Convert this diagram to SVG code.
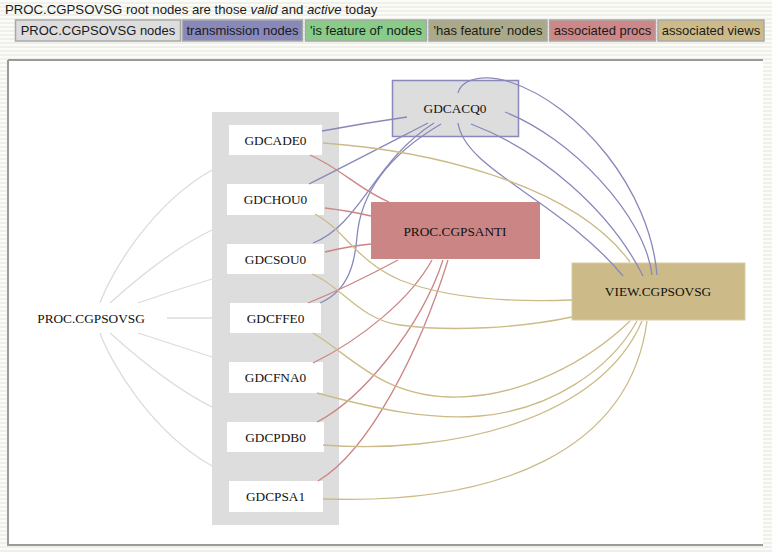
<svg xmlns="http://www.w3.org/2000/svg" width="772" height="552" viewBox="0 0 772 552">
  <defs>
    <pattern id="stripes" width="4" height="4" patternUnits="userSpaceOnUse">
      <rect width="4" height="4" fill="#fbfbf8"/>
      <rect y="2" width="4" height="2" fill="#f0f0ea"/>
    </pattern>
    <style>
      .title { font-family: "Liberation Sans", Arial, sans-serif; font-size: 13.2px; fill: #1a1a1a; }
      .leg { font-family: "Liberation Sans", Arial, sans-serif; font-size: 13px; fill: #1a1a1a; text-anchor: middle; }
      .legbox { stroke: #a8a8a8; stroke-width: 1.5; }
      .lbl { font-family: "Liberation Serif", "Times New Roman", serif; font-size: 13.3px; fill: #111; text-anchor: middle; }
      .gdc { fill: #ffffff; }
      .edge { fill: none; stroke-width: 1.3; }
      .grey { stroke: #dcdcdc; }
      .trans { stroke: #8888bb; }
      .proc { stroke: #cc8585; }
      .view { stroke: #ccbb88; }
    </style>
  </defs>

  <!-- page background -->
  <rect x="0" y="0" width="772" height="552" fill="url(#stripes)"/>

  <!-- title and legend -->
  <g id="legend">
    <text class="title" x="5" y="13.5">PROC.CGPSOVSG root nodes are those <tspan font-style="italic">valid</tspan> and <tspan font-style="italic">active</tspan> today</text>
    <rect class="legbox" x="15.5" y="20" width="165" height="21" fill="#dddddd"/>
    <text class="leg" x="98" y="35">PROC.CGPSOVSG nodes</text>
    <rect class="legbox" x="182.5" y="20" width="120" height="21" fill="#8888bb"/>
    <text class="leg" x="242.5" y="35">transmission nodes</text>
    <rect class="legbox" x="305.5" y="20" width="121" height="21" fill="#88cc88"/>
    <text class="leg" x="366" y="35">'is feature of' nodes</text>
    <rect class="legbox" x="429" y="20" width="118" height="21" fill="#aaaa88"/>
    <text class="leg" x="488" y="35">'has feature' nodes</text>
    <rect class="legbox" x="549.5" y="20" width="106" height="21" fill="#cc8888"/>
    <text class="leg" x="602.5" y="35">associated procs</text>
    <rect class="legbox" x="658" y="20" width="106" height="21" fill="#ccbb88"/>
    <text class="leg" x="711" y="35">associated views</text>
  </g>

  <!-- drawing panel -->
  <g id="panel">
    <rect x="8" y="60" width="755" height="485" fill="#ffffff"/>
    <path d="M8,60 H763 M8,60 V545 M7,545 H763" fill="none" stroke="#9a9a9a" stroke-width="2"/>
  </g>

  <!-- cluster -->
  <g id="cluster">
    <rect x="212" y="112" width="127" height="413" fill="#dddddd"/>
  </g>

  <g id="PROC_CGPSOVSG">
    <text class="lbl" x="91" y="322.5">PROC.CGPSOVSG</text>
  </g>
  <g id="GDCADE0">
    <rect class="gdc" x="229" y="125" width="93" height="30"/>
    <text class="lbl" x="275.5" y="144.5">GDCADE0</text>
  </g>
  <g id="GDCHOU0">
    <rect class="gdc" x="227" y="184" width="97" height="31"/>
    <text class="lbl" x="275.5" y="204">GDCHOU0</text>
  </g>
  <g id="GDCSOU0">
    <rect class="gdc" x="227" y="244" width="97" height="30"/>
    <text class="lbl" x="275.5" y="263.5">GDCSOU0</text>
  </g>
  <g id="GDCFFE0">
    <rect class="gdc" x="230" y="303" width="91" height="30"/>
    <text class="lbl" x="275.5" y="322.5">GDCFFE0</text>
  </g>
  <g id="GDCFNA0">
    <rect class="gdc" x="229" y="362" width="94" height="31"/>
    <text class="lbl" x="275.5" y="382">GDCFNA0</text>
  </g>
  <g id="GDCPDB0">
    <rect class="gdc" x="227" y="422" width="97" height="30"/>
    <text class="lbl" x="275.5" y="441.5">GDCPDB0</text>
  </g>
  <g id="GDCPSA1">
    <rect class="gdc" x="229" y="481" width="94" height="31"/>
    <text class="lbl" x="275.5" y="501">GDCPSA1</text>
  </g>

  <g id="GDCACQ0">
    <rect x="392.5" y="80.5" width="126" height="56" fill="#dddddd" stroke="#8888bb" stroke-width="1.5"/>
    <text class="lbl" x="455" y="112.5">GDCACQ0</text>
  </g>
  <g id="PROC_CGPSANTI">
    <rect x="371" y="202" width="169" height="57" fill="#cc8585"/>
    <text class="lbl" x="455" y="235.5">PROC.CGPSANTI</text>
  </g>
  <g id="VIEW_CGPSOVSG">
    <rect x="572" y="263" width="173" height="57" fill="#ccbb88" stroke="#d8cca4" stroke-width="1"/>
    <text class="lbl" x="658" y="296">VIEW.CGPSOVSG</text>
  </g>

  <!-- connectors -->
  <g id="connectors">
    <!-- root to cluster -->
    <path class="edge grey" d="M100,303 C110,275 150,205 212,170"/>
    <path class="edge grey" d="M110,303 C130,285 170,250 212,230"/>
    <path class="edge grey" d="M138,303 Q175,290 212,279"/>
    <path class="edge grey" d="M167,318 L212,318"/>
    <path class="edge grey" d="M138,333 Q175,345 212,357"/>
    <path class="edge grey" d="M110,333 C130,351 170,386 212,407"/>
    <path class="edge grey" d="M100,333 C110,361 150,431 212,466"/>

    <!-- transmission -->
    <path class="edge trans" d="M322,131 Q365,123 407,117"/>
    <path class="edge trans" d="M309,184 C345,166 395,140 428,123"/>
    <path class="edge trans" d="M313,243 C360,225 375,160 434,123"/>
    <path class="edge trans" d="M320,303 C350,290 355,260 357,237 C360,200 380,160 441,124"/>
    <path class="edge trans" d="M458,93 C462,78 485,74 510,82 C580,105 650,190 657,275"/>
    <path class="edge trans" d="M505,112 C570,137 645,215 652,275"/>
    <path class="edge trans" d="M458,123 C465,170 560,200 623,276"/>
    <path class="edge trans" d="M471,124 C540,150 610,210 643,276"/>

    <!-- associated procs -->
    <path class="edge proc" d="M310,155 C340,168 360,190 389,202"/>
    <path class="edge proc" d="M325,208 Q350,211 371,216"/>
    <path class="edge proc" d="M325,252 Q350,246 371,244"/>
    <path class="edge proc" d="M308,303 C340,290 370,275 398,260"/>
    <path class="edge proc" d="M313,363 C360,340 410,300 432,260"/>
    <path class="edge proc" d="M317,422 C360,400 420,330 443,260"/>
    <path class="edge proc" d="M318,481 C370,450 420,350 448,260"/>

    <!-- associated views -->
    <path class="edge view" d="M323,143 C420,150 570,180 630,262"/>
    <path class="edge view" d="M315,214 C345,230 355,260 400,280 C450,300 520,302 572,300"/>
    <path class="edge view" d="M312,274 C340,285 360,320 400,325 C450,332 520,328 572,317"/>
    <path class="edge view" d="M313,333 C350,355 380,395 450,397 C520,399 590,360 630,321"/>
    <path class="edge view" d="M317,393 C380,410 430,420 480,416 C550,410 610,370 637,321"/>
    <path class="edge view" d="M323,445 C450,455 600,420 642,321"/>
    <path class="edge view" d="M323,499 C500,505 630,450 647,321"/>
  </g>
</svg>
